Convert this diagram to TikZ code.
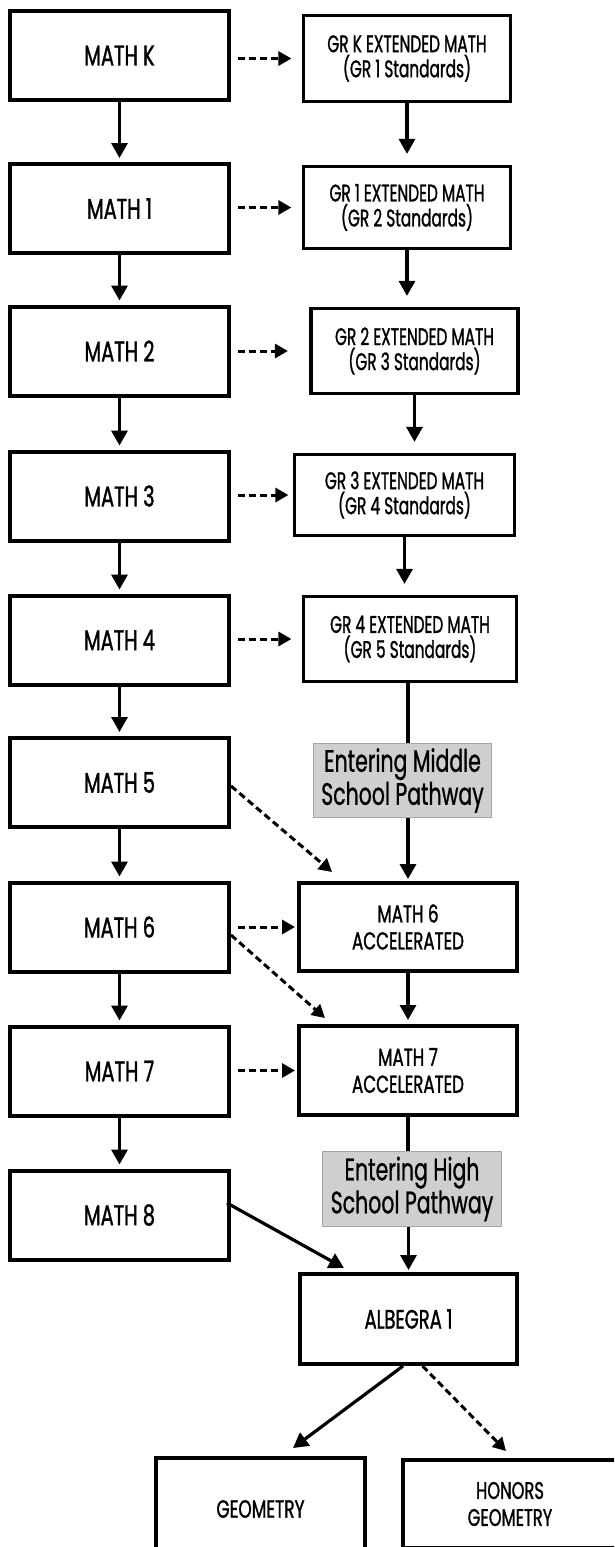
\documentclass[tikz,border=0pt]{standalone}
\usepackage{fontspec}
\setmainfont{Poppins}[FakeStretch=0.68, FakeBold=1.2]
\newfontfamily\extfont{Poppins}[FakeStretch=0.64, FakeBold=1.1]
\newfontfamily\labelfont{Poppins}[FakeStretch=0.66, FakeBold=0.8]
\usetikzlibrary{arrows.meta}
\definecolor{pathgray}{RGB}{208,207,208}
\definecolor{pathedge}{RGB}{165,165,165}

\begin{document}
\begin{tikzpicture}[x=1pt, y=-1pt,
    every node/.style={align=center, inner sep=0pt},
    grade/.style={draw, line width=4pt, fill=white, minimum width=219pt, minimum height=89pt, font=\fontsize{28.5}{30}\selectfont},
    ext/.style={draw, line width=3.2pt, fill=white, font=\extfont\fontsize{24}{25}\selectfont},
    accel/.style={grade, minimum width=218pt, font=\fontsize{24.5}{27}\selectfont},
    entry/.style={draw=pathedge, line width=0.8pt, fill=pathgray, font=\labelfont\fontsize{31}{33}\selectfont},
    solidarrow/.style={line width=3.2pt, -{Triangle[length=15pt,width=16pt]}, shorten >=4pt},
    dasharrow/.style={line width=3pt, dash pattern=on 7pt off 4pt, -{Triangle[length=13pt,width=14pt]}}]
    \clip (0,0) rectangle (614,1547);

    % Grade-level column
    \foreach \n/\t/\y in {mathK/MATH K/55.5, math1/MATH 1/208.5, math2/MATH 2/351, math3/MATH 3/496, math4/MATH 4/640,
                          math5/MATH 5/782.5, math6/MATH 6/927, math7/MATH 7/1071, math8/MATH 8/1215} {
        \node[grade] (\n) at (119.5,\y) {\t};
    }
    % Vertical edges grade column
    \foreach \a/\b in {mathK/math1, math1/math2, math2/math3, math3/math4, math4/math5, math5/math6, math6/math7, math7/math8} {
        \draw[solidarrow] (\a) -- (\b);
    }

    % Extended math column
    \foreach \n/\g/\s/\x/\y/\w/\h in {grK/K/1/407/58.5/207/86, gr1/1/2/407/207.5/207/82, gr2/2/3/414.5/351/207/85,
                                      gr3/3/4/404.5/495/220/81, gr4/4/5/410/639/213/85} {
        \node[ext, minimum width=\w pt, minimum height=\h pt] (\n) at (\x,\y) {GR \g\ EXTENDED MATH\\(GR \s\ Standards)};
    }
    \foreach \a/\b in {grK/gr1, gr1/gr2, gr2/gr3, gr3/gr4} {
        \draw[solidarrow, shorten >=11pt] (\a.south) -- (\a.south |- \b.north);
    }

    % Pathway labels
    \node[entry, minimum width=178pt, minimum height=74pt] (midlbl) at (402.5,780.5) {Entering Middle\\School Pathway};
    \node[entry, minimum width=179pt, minimum height=75pt] (hslbl) at (412,1189) {Entering High\\School Pathway};

    % Accelerated and high school courses
    \node[accel, minimum height=88pt] (acc6) at (408,927) {MATH 6\\ACCELERATED};
    \node[accel] (acc7) at (408,1070.5) {MATH 7\\ACCELERATED};
    \node[accel, minimum width=217pt, minimum height=90pt, font=\fontsize{26.5}{28}\selectfont] (alg) at (408.5,1319) {ALBEGRA 1};
    \node[grade, minimum width=209pt, minimum height=102pt, font=\fontsize{25}{27}\selectfont] (geo) at (260.5,1509) {GEOMETRY};
    \node[grade, minimum width=214pt, minimum height=88pt, font=\fontsize{24}{27}\selectfont] (hon) at (510,1504) {HONORS\\GEOMETRY};

    % Dashed edges across
    \foreach \a/\b/\s in {mathK/grK/10.5, math1/gr1/10.5, math2/gr2/21.5, math3/gr3/4.5, math4/gr4/10.5, math6/acc6/2, math7/acc7/2} {
        \draw[dasharrow, shorten <=7pt, shorten >=\s pt] (\a.east |- \b.west) -- (\b.west);
    }

    % Edges through the pathway labels
    \draw[line width=3.2pt] (acc6.north |- gr4.south) -- (acc6.north |- midlbl.north);
    \draw[solidarrow, shorten >=2pt] (acc6.north |- midlbl.south) -- (acc6.north);
    \draw[solidarrow] (acc6) -- (acc7);
    \draw[line width=3.2pt] (acc7.south) -- (acc7.south |- hslbl.north);
    \draw[solidarrow, shorten >=2pt] (alg.north |- hslbl.south) -- (alg.north);

    % Diagonal edges
    \draw[dasharrow] ([yshift=-3.5pt]math5.east) -- ([xshift=35pt,yshift=9pt]acc6.north west);
    \draw[dasharrow] ([yshift=-8pt]math6.east) -- ([xshift=28pt,yshift=6pt]acc7.north west);
    \draw[solidarrow, shorten >=0pt] ([xshift=-4pt,yshift=12pt]math8.east) -- ([xshift=46pt,yshift=4pt]alg.north west);
    \draw[solidarrow, shorten >=0pt] ([xshift=-5.5pt]alg.south) -- ([xshift=32.5pt,yshift=8pt]geo.north);
    \draw[dasharrow] ([xshift=14pt]alg.south) -- ([xshift=105pt,yshift=7pt]hon.north west);
\end{tikzpicture}
\end{document}
